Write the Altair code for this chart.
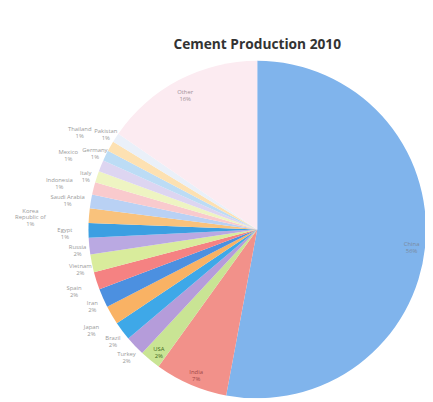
import altair as alt
import pandas as pd

title_text = ["Cement Production 2010"]
countries = ["China", "India", "USA", "Turkey", "Brazil", "Japan", "Iran", "Spain",
             "Vietnam", "Russia", "Egypt", "Korea\nRepublic of", "Saudi Arabia",
             "Indonesia", "Italy", "Mexico", "Germany", "Thailand", "Pakistan", "Other"]
shares = [53.0, 7.0, 2.0, 1.9, 1.8, 1.8, 1.8, 1.7, 1.7, 1.6, 1.4, 1.4, 1.3, 1.2,
          1.1, 1.1, 1.0, 1.0, 0.9, 15.4]
pct_labels = ["56%", "7%", "2%", "2%", "2%", "2%", "2%", "2%", "2%", "2%", "1%", "1%",
              "1%", "1%", "1%", "1%", "1%", "1%", "1%", "16%"]
colors = ["#80b4ec", "#f2918a", "#c9e494", "#b59cda", "#3ea8e8", "#f9b264", "#4c90e0",
          "#f58282", "#d9ec9c", "#baa9e2", "#3c9fe2", "#f9c27c", "#b9d1f4", "#f9cacd",
          "#eef4c2", "#ddd5f1", "#bcdcf5", "#fde1b2", "#eaf0f9", "#fcebf1"]
# label ring: 0 inside; 1..4 outside rings of growing distance
rings = [0, 0, 0, 1, 1, 2, 1, 2, 1, 1, 2, 4, 2, 3, 1, 3, 1, 3, 1, 0]

df = pd.DataFrame({
    "country": countries,
    "share": shares,
    "label": [f"{c}\n{p}" for c, p in zip(countries, pct_labels)],
    "order": list(range(len(countries))),
    "ring": rings,
})

cx, cy = 254, 222
ring_radius = {1: 184, 2: 196, 3: 208, 4: 232}

base = alt.Chart(df).encode(
    theta=alt.Theta("share:Q", stack=True),
    order=alt.Order("order:Q"),
    x=alt.value(cx),
    y=alt.value(cy),
)

pie = base.mark_arc(radius=172, clip=True).encode(
    color=alt.Color("country:N", scale=alt.Scale(domain=countries, range=colors), legend=None)
)

def ring_layer(r):
    return base.mark_text(radius=ring_radius[r], fontSize=6, font="Open Sans",
                          lineBreak="\n", lineHeight=7, fill="#9a9a9a").encode(
        text=alt.condition(alt.datum.ring == r, "label:N", alt.value(""))
    )

inside = base.mark_text(radius=158, fontSize=6, font="Open Sans", lineBreak="\n",
                        lineHeight=7).encode(
    text=alt.condition(alt.datum.ring == 0, "label:N", alt.value("")),
    color=alt.Color("country:N",
                    scale=alt.Scale(domain=["China", "India", "USA", "Other"],
                                    range=["#7a8aa0", "#a04848", "#3e6a20", "#a09098"]),
                    legend=None),
)

title = alt.Chart(pd.DataFrame({"t": title_text})).mark_text(
    font="Open Sans", fontSize=14, fontWeight="bold", color="#333333",
    align="center", baseline="middle"
).encode(text="t:N", x=alt.value(254), y=alt.value(34))

layers = [pie, inside] + [ring_layer(r) for r in ring_radius] + [title]

chart = alt.layer(*layers).resolve_scale(color="independent").properties(
    width=425,
    height=394,
    padding=0,
    autosize=alt.AutoSizeParams(type="none"),
).configure_view(stroke=None)

chart.save("out.html", embed_options={"renderer": "svg", "actions": False})
